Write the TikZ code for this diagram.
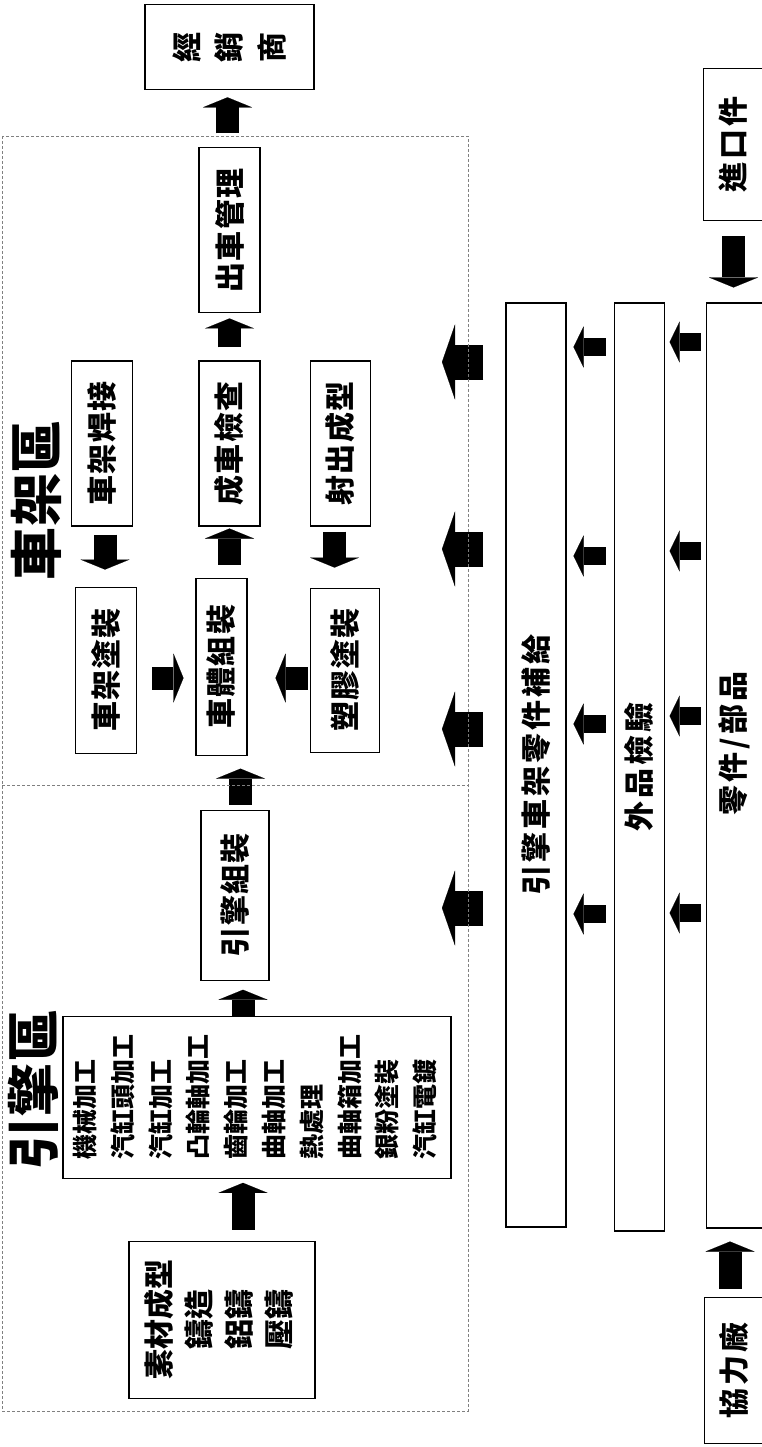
\documentclass[tikz,border=0pt]{standalone}
\usepackage{fontspec}
\usepackage{graphicx}
\usetikzlibrary{arrows.meta, positioning}
\newfontfamily\cjk{Noto Sans CJK TC}[LetterSpace=4]
\newcommand{\vtext}[1]{\rotatebox{90}{#1}}
\tikzstyle{stage} = [rectangle, draw, line width=1.1pt, inner sep=0pt, font=\cjk\bfseries\fontsize{30}{36}\selectfont]
\tikzstyle{stage_wide} = [stage, font=\cjk\bfseries\fontsize{30}{36}\selectfont\addfontfeature{LetterSpace=10}]
\tikzstyle{zone} = [draw=gray, line width=0.8pt, dash pattern=on 3pt off 2pt]
\tikzstyle{zone_title} = [inner sep=0pt, font=\cjk\bfseries\fontsize{53}{60}\selectfont\addfontfeature{LetterSpace=1}]
\tikzstyle{flow_arrow} = [draw, line width=23pt, -{Triangle[length=10pt, width=49pt, line width=0.1pt]}]
\tikzstyle{feed_arrow} = [draw, line width=35pt, -{Triangle[length=13pt, width=75pt, line width=0.1pt]}]
\tikzstyle{part_arrow} = [draw, line width=18pt, -{Triangle[length=10pt, width=41pt, line width=0.1pt]}]

\begin{document}
\begin{tikzpicture}[x=1pt, y=-1pt]
    \useasboundingbox (0,0) rectangle (762,1447);

    % Nodes
    \node[stage, minimum width=61pt, minimum height=165pt] (check) at (229.5,443.5) {\vtext{成車檢查}};
    \node[stage, minimum width=61pt, minimum height=165pt, above=47pt of check] (release) {\vtext{出車管理}};
    \node[stage, minimum width=169pt, minimum height=85pt, above=57pt of release] (dealer) {\vtext{經}\hspace{14pt}\vtext{銷}\hspace{14pt}\vtext{商}};
    \node[stage, minimum width=61pt, minimum height=165pt, left=65pt of check] (welding) {\vtext{車架焊接}};
    \node[stage, minimum width=60pt, minimum height=165pt, right=49pt of check] (molding) {\vtext{射出成型}};
    \node[stage, minimum width=51pt, minimum height=177pt, below=51pt of check, xshift=-8pt] (body) {\vtext{車體組裝}};
    \node[stage, minimum width=61pt, minimum height=166pt, left=58pt of body, yshift=-3.5pt] (framepaint) {\vtext{車架塗裝}};
    \node[stage, minimum width=69pt, minimum height=164pt, right=62pt of body, yshift=-3.5pt] (plasticpaint) {\vtext{塑膠塗裝}};
    \node[stage, minimum width=68pt, minimum height=170pt, below=54pt of body, xshift=13.5pt] (engine) {\vtext{引擎組裝}};
    \node[stage, minimum width=388pt, minimum height=162pt, below=35pt of engine, xshift=22pt] (machining)
        {\fontsize{25}{37.8}\selectfont\addfontfeature{LetterSpace=0}\vtext{\begin{tabular}{@{}l@{}}機械加工\\汽缸頭加工\\汽缸加工\\凸輪軸加工\\齒輪加工\\曲軸加工\\熱處理\\曲軸箱加工\\銀粉塗裝\\汽缸電鍍\end{tabular}}};
    \node[stage, minimum width=186pt, minimum height=157pt, below=62pt of machining, xshift=-35pt] (casting)
        {\fontsize{30}{40}\selectfont\addfontfeature{LetterSpace=0}\vtext{\begin{tabular}{@{}c@{}}素材成型\\鑄造\\鋁鑄\\壓鑄\end{tabular}}};

    \node[stage_wide, minimum width=60pt, minimum height=924pt] (supply) at (536,765) {\vtext{引擎車架零件補給}};
    \node[stage_wide, minimum width=50pt, minimum height=928pt, right=47pt of supply.north east, anchor=north west] (inspection) {\vtext{外品檢驗}};
    \node[stage_wide, minimum width=57pt, minimum height=925pt, right=41pt of inspection.north east, anchor=north west] (parts) {\vtext{\hspace{44pt}零件/部品}};
    \node[stage_wide, minimum width=60pt, minimum height=152pt, above=81pt of parts, xshift=-1.5pt] (imported) {\vtext{進口件}};
    \node[stage_wide, minimum width=59pt, minimum height=146pt, below=68pt of parts, xshift=-1pt] (partner) {\vtext{協力廠}};

    \node[zone_title] (frametitle) at (36.5,500) {\vtext{車架區}};
    \node[zone_title] (enginetitle) at (33.5,1090) {\vtext{引擎區}};

    % Arrow lanes
    \coordinate (lane_a) at (227.5,0);
    \coordinate (lane_c) at (105,0);
    \coordinate (lane_d) at (334.5,0);
    \coordinate (lane_e) at (0,678);
    \coordinate (lane_f) at (240.5,0);
    \coordinate (lane_g) at (243,0);
    \coordinate (lane_h) at (733.5,0);
    \coordinate (lane_i) at (730,0);
    \coordinate (out_1) at (442,362);
    \coordinate (out_2) at (442,549);
    \coordinate (out_3) at (442,729);
    \coordinate (out_4) at (442,908);
    \coordinate (row_s1) at (0,347);
    \coordinate (row_s2) at (0,556);
    \coordinate (row_s3) at (0,724);
    \coordinate (row_s4) at (0,914);
    \coordinate (row_p1) at (0,342);
    \coordinate (row_p2) at (0,551);
    \coordinate (row_p3) at (0,716);
    \coordinate (row_p4) at (0,913);

    % Edges
    \draw[flow_arrow, shorten <=14pt, shorten >=7pt] (release.north -| lane_a) -- (dealer.south -| lane_a);
    \draw[flow_arrow, shorten <=13pt, shorten >=5pt] (check.north) -- (release.south);
    \draw[flow_arrow, shorten <=13pt, shorten >=2pt] (body.north -| check.south) -- (check.south);
    \draw[flow_arrow, shorten <=8pt, shorten >=17pt] (welding.south -| lane_c) -- (framepaint.north -| lane_c);
    \draw[flow_arrow, shorten <=5pt, shorten >=20pt] (molding.south -| lane_d) -- (plasticpaint.north -| lane_d);
    \draw[flow_arrow, shorten <=15pt, shorten >=12pt] (framepaint.east |- lane_e) -- (body.west |- lane_e);
    \draw[flow_arrow, shorten <=2pt, shorten >=28pt] (plasticpaint.west |- lane_e) -- (body.east |- lane_e);
    \draw[flow_arrow, shorten <=5pt, shorten >=13pt] (engine.north -| lane_f) -- (body.south -| lane_f);
    \draw[flow_arrow, shorten >=9pt] (machining.north -| lane_g) -- (engine.south -| lane_g);
    \draw[flow_arrow, shorten <=11pt, shorten >=4pt] (casting.north -| lane_g) -- (machining.south -| lane_g);
    \draw[flow_arrow, shorten <=15pt, shorten >=15pt] (imported.south -| lane_h) -- (parts.north -| lane_h);
    \draw[flow_arrow, shorten <=8pt, shorten >=13pt] (partner.north -| lane_i) -- (parts.south -| lane_i);

    \draw[feed_arrow, shorten <=22pt] (supply.west |- out_1) -- (out_1);
    \draw[feed_arrow, shorten <=22pt] (supply.west |- out_2) -- (out_2);
    \draw[feed_arrow, shorten <=22pt] (supply.west |- out_3) -- (out_3);
    \draw[feed_arrow, shorten <=22pt] (supply.west |- out_4) -- (out_4);
    \draw[part_arrow, shorten <=8pt, shorten >=7pt] (inspection.west |- row_s1) -- (supply.east |- row_s1);
    \draw[part_arrow, shorten <=8pt, shorten >=7pt] (inspection.west |- row_s2) -- (supply.east |- row_s2);
    \draw[part_arrow, shorten <=8pt, shorten >=7pt] (inspection.west |- row_s3) -- (supply.east |- row_s3);
    \draw[part_arrow, shorten <=8pt, shorten >=7pt] (inspection.west |- row_s4) -- (supply.east |- row_s4);
    \draw[part_arrow, shorten <=5pt, shorten >=5pt] (parts.west |- row_p1) -- (inspection.east |- row_p1);
    \draw[part_arrow, shorten <=5pt, shorten >=5pt] (parts.west |- row_p2) -- (inspection.east |- row_p2);
    \draw[part_arrow, shorten <=5pt, shorten >=5pt] (parts.west |- row_p3) -- (inspection.east |- row_p3);
    \draw[part_arrow, shorten <=5pt, shorten >=5pt] (parts.west |- row_p4) -- (inspection.east |- row_p4);

    % Zones
    \draw[zone] (2,136) rectangle (468,1411);
    \draw[zone] (2,785) -- (468,785);
\end{tikzpicture}
\end{document}
